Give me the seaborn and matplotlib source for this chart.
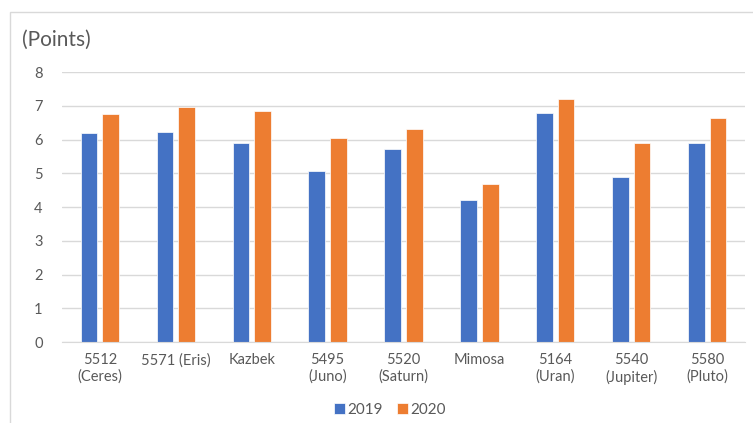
import pandas as pd
import matplotlib.pyplot as plt
import matplotlib.patches as mpatches
import seaborn as sb

categories = ['5512\n(Ceres)', '5571 (Eris)', 'Kazbek', '5495\n(Juno)', '5520\n(Saturn)',
              'Mimosa', '5164\n(Uran)', '5540\n(Jupiter)', '5580\n(Pluto)']
years = ['2019', '2020']
points_2019 = [6.18, 6.21, 5.89, 5.08, 5.73, 4.20, 6.80, 4.88, 5.89]
points_2020 = [6.76, 6.96, 6.83, 6.03, 6.30, 4.69, 7.19, 5.91, 6.64]
y_ticks = [0, 1, 2, 3, 4, 5, 6, 7, 8]

if __name__ == '__main__':
    df = pd.DataFrame({
        'category': categories * 2,
        'year': [years[0]] * len(categories) + [years[1]] * len(categories),
        'points': points_2019 + points_2020,
    })

    sb.set_style('white')
    plt.rcParams['font.family'] = ['Lato', 'DejaVu Sans']

    fig = plt.figure(figsize=(7.53, 4.23), dpi=100)
    ax = fig.add_axes([62 / 753, 1 - 342 / 423, 683 / 753, 270 / 423])

    # chart frame (clipped on the right/bottom like the screenshot)
    fig.patches.append(mpatches.Rectangle((10 / 753, -0.1), 1.1, 1 - 12 / 423 + 0.1,
                                          transform=fig.transFigure, fill=False,
                                          edgecolor='#D9D9D9', linewidth=1))

    sb.barplot(data=df, x='category', y='points', hue='year', order=categories,
               palette=['#4472C4', '#ED7D31'], saturation=1, width=0.57, gap=0.23,
               edgecolor='white', linewidth=0.5, ax=ax)

    ax.set_ylim(0, 8)
    ax.set_yticks(y_ticks)
    ax.yaxis.grid(True, color='#D9D9D9', linewidth=1)
    ax.set_axisbelow(True)
    for s in ['top', 'right', 'left']:
        ax.spines[s].set_visible(False)
    ax.spines['bottom'].set_color('#D9D9D9')
    ax.tick_params(axis='both', length=0, labelsize=10.5, labelcolor='#595959', pad=8)
    ax.tick_params(axis='y', pad=14)
    ax.set_xlabel('')
    ax.set_ylabel('')

    fig.text(22 / 753, 1 - 40 / 423, '(Points)', fontsize=15, color='#595959', va='center')

    ax.legend(loc='center', bbox_to_anchor=((390 - 62) / 683, -(410 - 342) / 270),
              ncol=2, frameon=False, fontsize=11, handlelength=0.7, handleheight=0.7,
              handletextpad=0.2, columnspacing=0.9, labelcolor='#595959')

    fig.savefig('out.png', dpi=100)
